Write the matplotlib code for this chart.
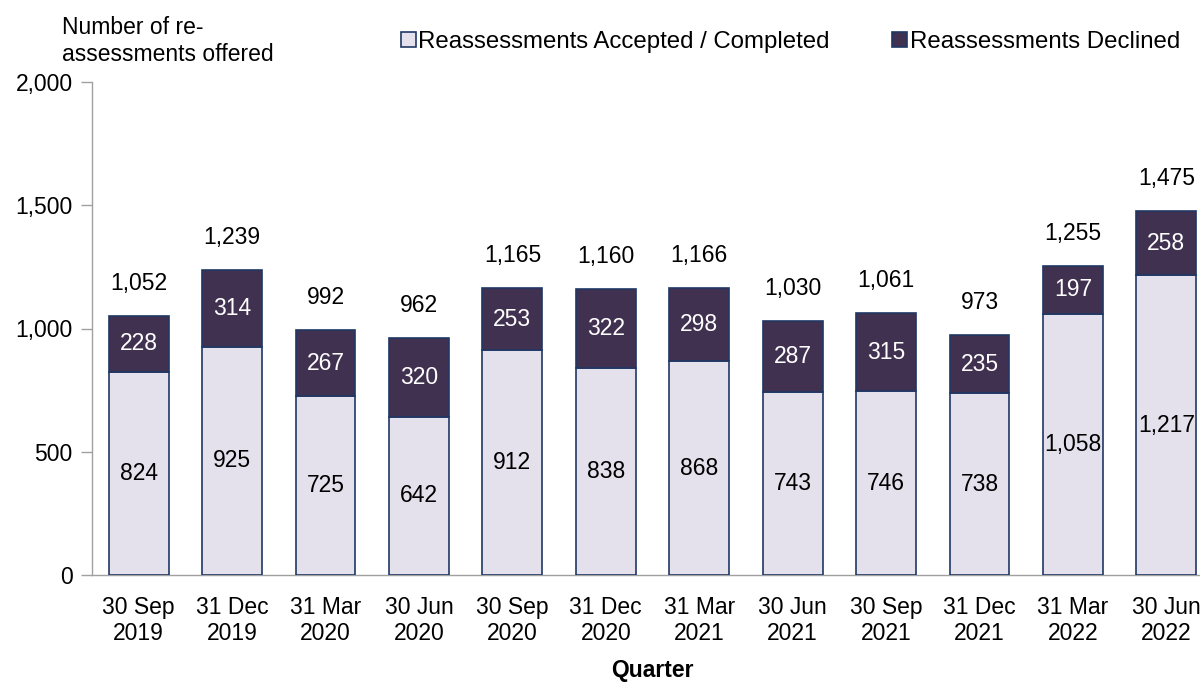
import matplotlib
matplotlib.use("Agg")
import matplotlib.pyplot as plt
from matplotlib.patches import Patch
import numpy as np

plt.rcParams['font.family'] = ['Liberation Sans', 'DejaVu Sans']

quarters = ["30 Sep\n2019", "31 Dec\n2019", "31 Mar\n2020", "30 Jun\n2020",
            "30 Sep\n2020", "31 Dec\n2020", "31 Mar\n2021", "30 Jun\n2021",
            "30 Sep\n2021", "31 Dec\n2021", "31 Mar\n2022", "30 Jun\n2022"]
accepted = [824, 925, 725, 642, 912, 838, 868, 743, 746, 738, 1058, 1217]
declined = [228, 314, 267, 320, 253, 322, 298, 287, 315, 235, 197, 258]
totals = [1052, 1239, 992, 962, 1165, 1160, 1166, 1030, 1061, 973, 1255, 1475]

light = "#E4E0EC"
dark = "#413150"
edge = "#1F3864"
FS = 16.5

fig = plt.figure(figsize=(12, 6.84), dpi=100)
ax = fig.add_axes([92/1200, 1-575/684, 1121/1200, 493/684])

x = np.arange(len(quarters))
w = 0.64
ax.bar(x, accepted, w, color=light, edgecolor=edge, linewidth=1.2, zorder=3)
ax.bar(x, declined, w, bottom=accepted, color=dark, edgecolor=edge, linewidth=1.2, zorder=3)

for i in range(len(x)):
    ax.text(x[i], accepted[i] / 2, f"{accepted[i]:,}", ha='center', va='center',
            fontsize=FS, color='black', zorder=4)
    ax.text(x[i], accepted[i] + declined[i] / 2, f"{declined[i]:,}", ha='center', va='center',
            fontsize=FS, color='white', zorder=4)
    ax.text(x[i], totals[i] + 132, f"{totals[i]:,}", ha='center', va='center',
            fontsize=FS, color='black', zorder=4)

ax.set_xlim(-0.5, 11.5)
ax.set_ylim(0, 2000)
ax.set_yticks([0, 500, 1000, 1500, 2000])
ax.set_yticklabels(["0", "500", "1,000", "1,500", "2,000"])
ax.set_xticks(x)
ax.set_xticklabels(quarters, linespacing=1.2)
ax.tick_params(axis='y', labelsize=FS, length=8, color='#A0A0A0', width=1, pad=6)
ax.tick_params(axis='x', labelsize=FS, length=0, pad=15)
for s in ['top', 'right']:
    ax.spines[s].set_visible(False)
ax.spines['left'].set_color('#A0A0A0')
ax.spines['bottom'].set_color('#A0A0A0')
ax.spines['left'].set_linewidth(1)
ax.spines['bottom'].set_linewidth(1)

fig.text(652/1200, 1-670/684, "Quarter", fontsize=FS, fontweight='bold',
         ha='center', va='center')
fig.text(62/1200, 1-41/684, "Number of re-\nassessments offered", fontsize=FS,
         ha='left', va='center', linespacing=1.25)

handles = [Patch(facecolor=light, edgecolor=edge, linewidth=1.2, label="Reassessments Accepted / Completed"),
           Patch(facecolor=dark, edgecolor=edge, linewidth=1.2, label="Reassessments Declined")]
fig.legend(handles=handles, loc='center right', bbox_to_anchor=(1180/1200, 1-42/684), ncol=2,
           frameon=False, fontsize=17.3, handlelength=0.6, handleheight=0.6, handletextpad=0.12,
           columnspacing=2.6, borderaxespad=0, borderpad=0)

fig.savefig("out.png", dpi=100)
